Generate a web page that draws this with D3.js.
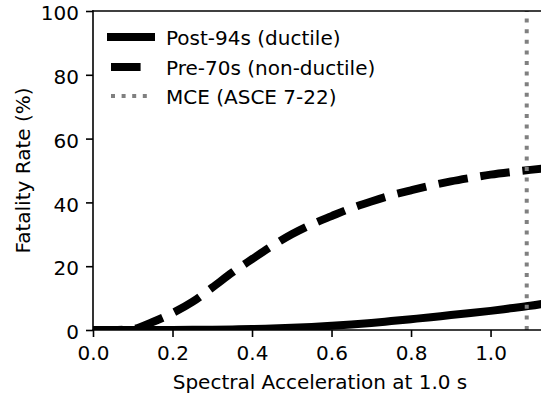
<!DOCTYPE html>
<html>
<head>
<meta charset="utf-8">
<script src="https://cdn.jsdelivr.net/npm/d3@7"></script>
<style>
  body { margin: 0; background: #fff; }
  svg { display: block; font-family: "DejaVu Sans", sans-serif; }
</style>
</head>
<body>
<svg id="chart" width="541" height="394"></svg>
<script>
// spectral acceleration (g) at 1.0 s
const sa = [0.0, 0.05, 0.1, 0.15, 0.2, 0.25, 0.3, 0.35, 0.4, 0.45, 0.5, 0.55, 0.6,
  0.65, 0.7, 0.75, 0.8, 0.85, 0.9, 0.95, 1.0, 1.05, 1.1, 1.15];
// fatality rate (%)
const post94 = [0, 0, 0, 0.01, 0.02, 0.05, 0.1, 0.18, 0.3, 0.5, 0.7, 0.95, 1.3,
  1.7, 2.2, 2.8, 3.4, 4.0, 4.7, 5.3, 6.0, 6.8, 7.6, 8.6];
const pre70 = [0, 0, 0.3, 2.5, 5.3, 8.8, 13.3, 18.0, 22.2, 26.3, 30.0, 33.1, 35.7,
  38.2, 40.3, 42.2, 43.8, 45.3, 46.6, 47.7, 48.7, 49.5, 50.2, 50.8];
const mce = 1.091;
const xTicks = [0.0, 0.2, 0.4, 0.6, 0.8, 1.0];
const yTicks = [0, 20, 40, 60, 80, 100];
const seriesNames = ["Post-94s (ductile)", "Pre-70s (non-ductile)", "MCE (ASCE 7-22)"];

const svg = d3.select("#chart");
const box = { left: 93, right: 547, top: 11, bottom: 330 };

const x = d3.scaleLinear().domain([0, 1.142]).range([box.left, box.right]);
const y = d3.scaleLinear().domain([0, 100]).range([box.bottom, box.top]);

svg.append("clipPath").attr("id", "plotclip")
  .append("rect")
  .attr("x", box.left).attr("y", box.top)
  .attr("width", box.right - box.left).attr("height", box.bottom - box.top);

const line = d3.line()
  .x((d, i) => x(sa[i]))
  .y(d => y(d))
  .curve(d3.curveMonotoneX);

const plot = svg.append("g").attr("clip-path", "url(#plotclip)");

plot.append("path")
  .datum(post94)
  .attr("d", line)
  .attr("fill", "none")
  .attr("stroke", "#000")
  .attr("stroke-width", 8)
  .attr("stroke-linecap", "square");

plot.append("path")
  .datum(pre70)
  .attr("d", line)
  .attr("fill", "none")
  .attr("stroke", "#000")
  .attr("stroke-width", 8)
  .attr("stroke-dasharray", "29.6,12.8");

plot.append("line")
  .attr("x1", x(mce)).attr("x2", x(mce))
  .attr("y1", y(0)).attr("y2", y(100))
  .attr("stroke", "#808080")
  .attr("stroke-width", 4)
  .attr("stroke-dasharray", "4,6.6");

// axes
const xAxis = svg.append("g")
  .attr("transform", `translate(0,${box.bottom})`)
  .call(d3.axisBottom(x).tickValues(xTicks).tickFormat(d3.format(".1f"))
    .tickSizeInner(7).tickSizeOuter(0).tickPadding(9));

const yAxis = svg.append("g")
  .attr("transform", `translate(${box.left},0)`)
  .call(d3.axisLeft(y).tickValues(yTicks).tickFormat(d3.format("d"))
    .tickSizeInner(7).tickSizeOuter(0).tickPadding(7));

[xAxis, yAxis].forEach(g => {
  g.select(".domain").remove();
  g.selectAll(".tick line").attr("stroke", "#000").attr("stroke-width", 1.6);
  g.selectAll(".tick text").attr("fill", "#000").style("font-size", "20px")
    .style("font-family", "DejaVu Sans");
});
yAxis.selectAll(".tick text").attr("dy", "0.43em");

// spines
svg.append("line").attr("x1", box.left).attr("x2", box.left).attr("y1", box.top).attr("y2", box.bottom)
  .attr("stroke", "#000").attr("stroke-width", 1.6).attr("stroke-linecap", "square");
svg.append("line").attr("x1", box.left).attr("x2", box.right).attr("y1", box.bottom).attr("y2", box.bottom)
  .attr("stroke", "#000").attr("stroke-width", 1.6).attr("stroke-linecap", "square");
svg.append("line").attr("x1", box.left).attr("x2", box.right).attr("y1", box.top).attr("y2", box.top)
  .attr("stroke", "#000").attr("stroke-width", 1.6).attr("stroke-linecap", "square");

// axis labels
svg.append("text")
  .attr("x", (box.left + box.right) / 2).attr("y", 389)
  .attr("text-anchor", "middle")
  .style("font-size", "20px")
  .text("Spectral Acceleration at 1.0 s");

svg.append("text")
  .attr("transform", `translate(30,${(box.top + box.bottom) / 2}) rotate(-90)`)
  .attr("text-anchor", "middle")
  .style("font-size", "20px")
  .text("Fatality Rate (%)");

// legend
const legend = svg.append("g");
const rowsY = [37, 67, 96];
const styles = [
  { color: "#000", w: 8, dash: null, cap: "square" },
  { color: "#000", w: 8, dash: "29.6,12.8", cap: "butt" },
  { color: "#808080", w: 4, dash: "4,6.6", cap: "butt" }
];
seriesNames.forEach((name, i) => {
  const s = styles[i];
  const h = legend.append("line")
    .attr("x1", 111).attr("x2", 151)
    .attr("y1", rowsY[i]).attr("y2", rowsY[i])
    .attr("stroke", s.color)
    .attr("stroke-width", s.w)
    .attr("stroke-linecap", s.cap);
  if (s.dash) h.attr("stroke-dasharray", s.dash);
  legend.append("text")
    .attr("x", 166).attr("y", rowsY[i] + 7.5)
    .style("font-size", "20px")
    .text(name);
});
</script>
</body>
</html>
